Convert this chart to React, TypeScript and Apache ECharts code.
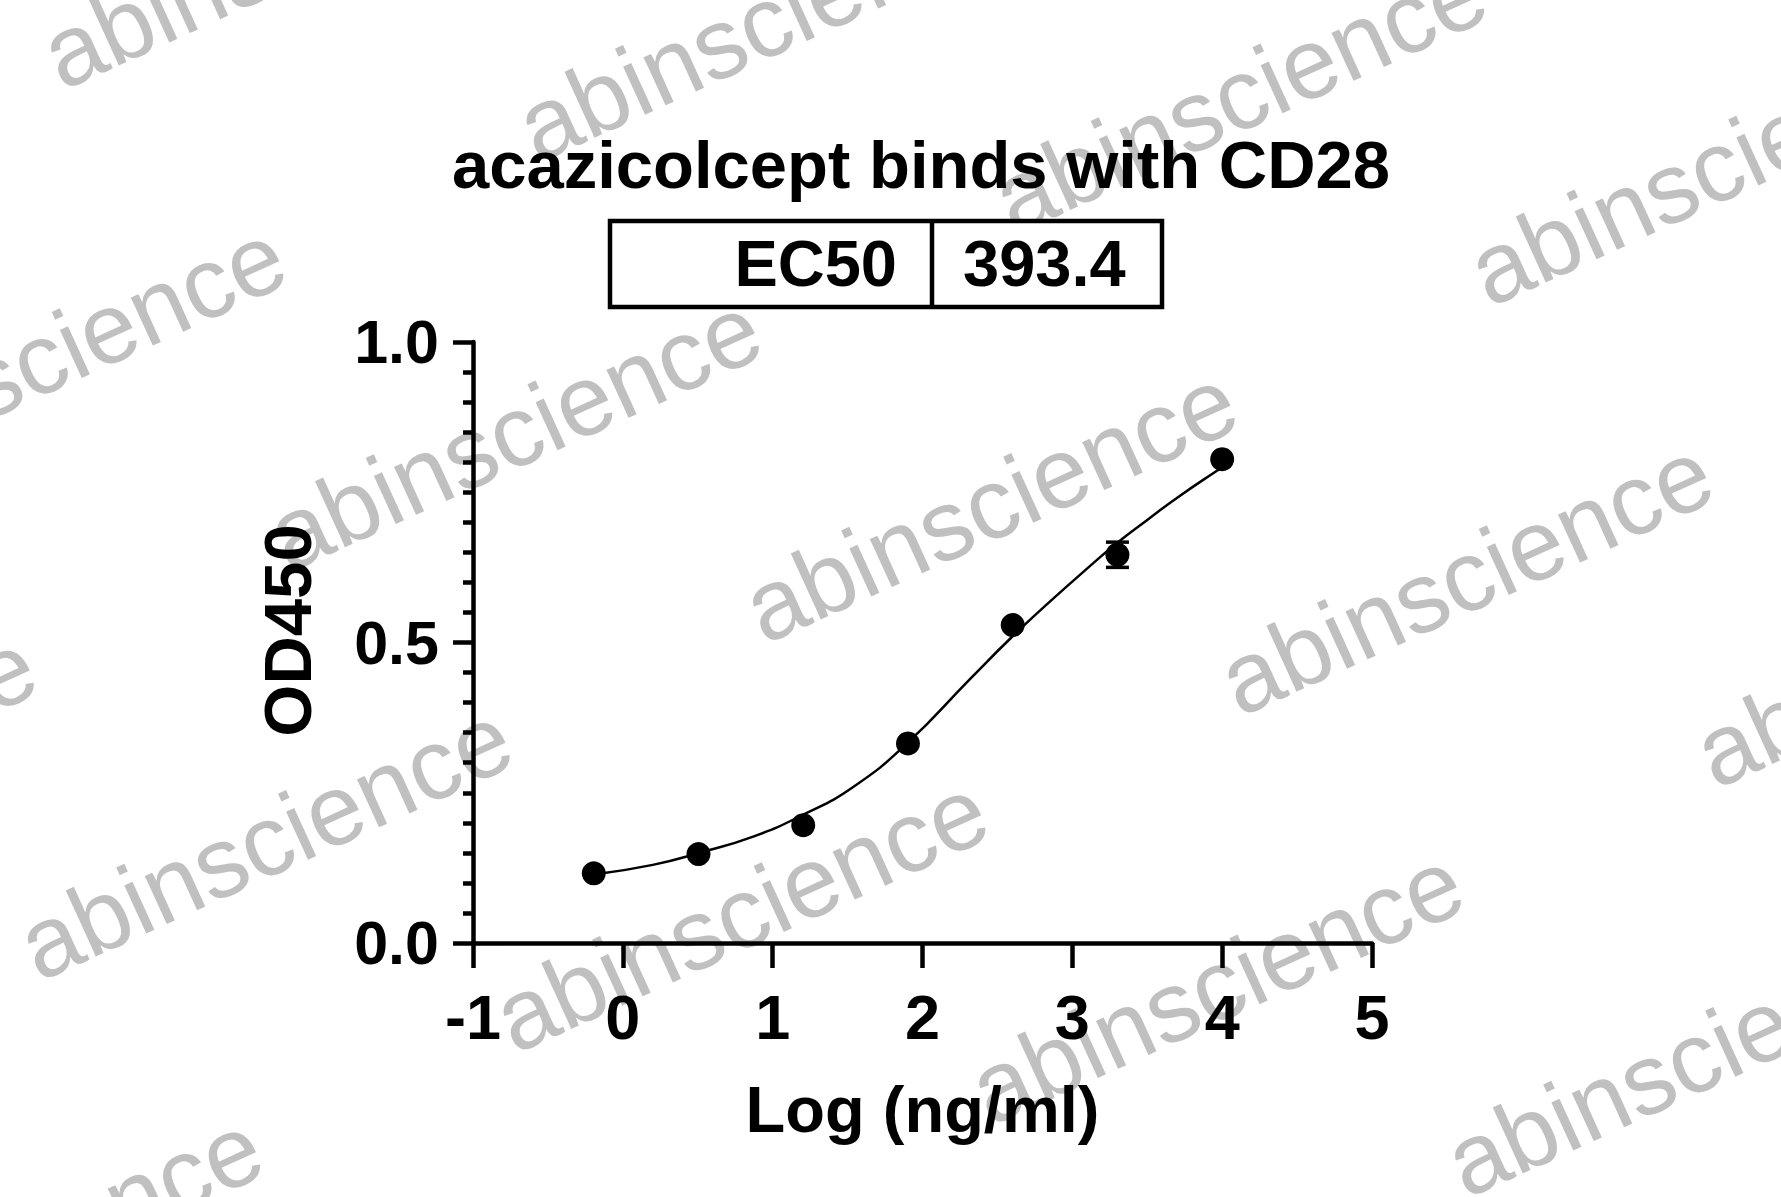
import React, { useEffect, useRef } from "react";
import * as echarts from "echarts";

// ---- data ----
const logConc = [-0.194, 0.505, 1.204, 1.903, 2.602, 3.301, 4.0];
const od450 = [0.116, 0.148, 0.196, 0.332, 0.529, 0.646, 0.805];
const od450Err = [0, 0, 0, 0, 0, 0.021, 0];

const fitLogConc = [-0.194, 0.2, 0.51, 0.87, 1.2, 1.54, 1.9, 2.32, 2.6, 2.85, 3.14, 3.3, 3.5, 3.7, 3.96, 4.0];
const fitOd450 = [0.114, 0.13, 0.15, 0.177, 0.213, 0.26, 0.333, 0.44, 0.51, 0.568, 0.632, 0.666, 0.704, 0.741, 0.785, 0.791];

const xTickLabels = ["-1", "0", "1", "2", "3", "4", "5"];
const yTickLabels = ["0.0", "0.5", "1.0"];

const titleText = "acazicolcept binds with CD28";
const ec50Label = "EC50";
const ec50Value = "393.4";
const xAxisName = "Log (ng/ml)";
const yAxisName = "OD450";
const watermarkText = "abinscience";

const FONT = '"Liberation Sans", Arial, Helvetica, sans-serif';

export default function App() {
  const ref = useRef<HTMLDivElement>(null);

  useEffect(() => {
    document.body.style.margin = "0";
    const chart = echarts.init(ref.current!, null, { renderer: "svg" });

    const W = 1781;
    const H = 1197;

    // watermark lattice
    const ang = (24.5 * Math.PI) / 180;
    const O = [62, 91];
    const I = [475.7, 72.3];
    const J = [-249.4, 409.4];
    const wmSize = 100;
    const marks: any[] = [];
    for (let j = -1; j <= 4; j++) {
      for (let i = -2; i <= 7; i++) {
        const bx = O[0] + i * I[0] + j * J[0];
        const by = O[1] + i * I[1] + j * J[1];
        if (bx > W + 20 || bx < -650 || by < -20 || by > H + 400) continue;
        marks.push({
          type: "text",
          x: bx,
          y: by,
          rotation: ang,
          z: -10,
          silent: true,
          style: {
            text: watermarkText,
            x: 0,
            y: -0.3465 * wmSize,
            fill: "#c0c0c0",
            font: `${wmSize}px ${FONT}`,
            textAlign: "left",
            textVerticalAlign: "middle",
          },
        });
      }
    }

    const tableEls: any[] = [
      {
        type: "rect",
        z: 10,
        shape: { x: 610, y: 221, width: 552, height: 86 },
        style: { fill: "#fff", stroke: "#000", lineWidth: 4.5 },
      },
      {
        type: "line",
        z: 11,
        shape: { x1: 932, y1: 221, x2: 932, y2: 307 },
        style: { stroke: "#000", lineWidth: 4.5 },
      },
      {
        type: "text",
        z: 11,
        x: 897,
        y: 263,
        style: {
          text: ec50Label,
          fill: "#000",
          font: `bold 65px ${FONT}`,
          textAlign: "right",
          textVerticalAlign: "middle",
        },
      },
      {
        type: "text",
        z: 11,
        x: 963,
        y: 263,
        style: {
          text: ec50Value,
          fill: "#000",
          font: `bold 65px ${FONT}`,
          textAlign: "left",
          textVerticalAlign: "middle",
        },
      },
    ];

    const errData = logConc
      .map((x, i) => [x, od450[i] - od450Err[i], od450[i] + od450Err[i]])
      .filter((_, i) => od450Err[i] > 0);

    const option: any = {
      animation: false,
      backgroundColor: "#fff",
      title: {
        text: titleText,
        left: 921,
        top: 131,
        textAlign: "center",
        padding: 0,
        textStyle: {
          fontSize: 67,
          fontWeight: "bold",
          color: "#000",
          fontFamily: FONT,
        },
      },
      graphic: { elements: [...marks, ...tableEls] },
      grid: { left: 473, top: 342, width: 899, height: 601, containLabel: false },
      xAxis: {
        type: "value",
        min: -1,
        max: 5,
        interval: 1,
        name: xAxisName,
        nameLocation: "middle",
        nameGap: 134,
        nameTextStyle: { fontSize: 65, fontWeight: "bold", color: "#000", fontFamily: FONT },
        axisLine: { show: true, onZero: false, lineStyle: { color: "#000", width: 4.5 } },
        axisTick: { show: true, length: 25, lineStyle: { color: "#000", width: 4.5 } },
        axisLabel: {
          margin: 42,
          fontSize: 63,
          fontWeight: "bold",
          color: "#000",
          fontFamily: FONT,
          formatter: (v: number) => xTickLabels[Math.round(v) + 1] ?? String(v),
        },
        splitLine: { show: false },
      },
      yAxis: {
        type: "value",
        min: 0,
        max: 1,
        interval: 0.5,
        name: yAxisName,
        nameLocation: "middle",
        nameRotate: 90,
        nameGap: 152,
        nameTextStyle: {
          fontSize: 67,
          fontWeight: "bold",
          color: "#000",
          fontFamily: FONT,
          padding: [0, 0, 0, 24],
        },
        axisLine: { show: true, onZero: false, lineStyle: { color: "#000", width: 4.5 } },
        axisTick: { show: true, length: 20, lineStyle: { color: "#000", width: 4.5 } },
        minorTick: { show: true, splitNumber: 10, length: 10, lineStyle: { color: "#000", width: 4.5 } },
        axisLabel: {
          margin: 34,
          fontSize: 61,
          fontWeight: "bold",
          color: "#000",
          fontFamily: FONT,
          formatter: (v: number) => yTickLabels[Math.round(v * 2)] ?? v.toFixed(1),
        },
        splitLine: { show: false },
        minorSplitLine: { show: false },
      },
      series: [
        {
          type: "line",
          data: fitLogConc.map((x, i) => [x, fitOd450[i]]),
          showSymbol: false,
          smooth: 0.5,
          lineStyle: { color: "#000", width: 2.5 },
          z: 3,
          silent: true,
        },
        {
          type: "custom",
          data: errData,
          encode: { x: 0, y: [1, 2] },
          z: 4,
          renderItem: (_params: any, api: any) => {
            const lo = api.coord([api.value(0), api.value(1)]);
            const hi = api.coord([api.value(0), api.value(2)]);
            const hw = 11.5;
            const st = { stroke: "#000", lineWidth: 3.5 };
            return {
              type: "group",
              children: [
                { type: "line", shape: { x1: lo[0], y1: lo[1], x2: hi[0], y2: hi[1] }, style: st },
                { type: "line", shape: { x1: lo[0] - hw, y1: lo[1], x2: lo[0] + hw, y2: lo[1] }, style: st },
                { type: "line", shape: { x1: hi[0] - hw, y1: hi[1], x2: hi[0] + hw, y2: hi[1] }, style: st },
              ],
            };
          },
        },
        {
          type: "scatter",
          data: logConc.map((x, i) => [x, od450[i]]),
          symbol: "circle",
          symbolSize: 24,
          itemStyle: { color: "#000", opacity: 1 },
          z: 5,
        },
      ],
    };

    chart.setOption(option);
    return () => chart.dispose();
  }, []);

  return <div ref={ref} style={{ width: 1781, height: 1197 }} />;
}
